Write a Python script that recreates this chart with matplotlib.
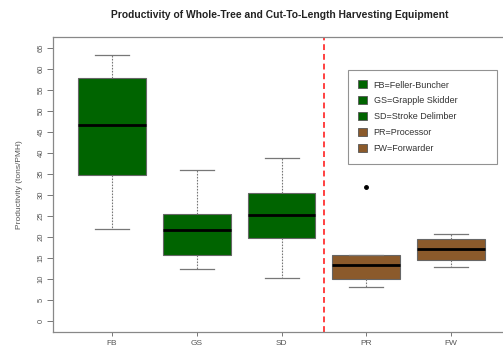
import matplotlib
matplotlib.use("Agg")
import matplotlib.pyplot as plt
from matplotlib.patches import Patch

# Equipment codes and summary statistics (tons/PMH)
labels = ["FB", "GS", "SD", "PR", "FW"]
whisker_low = [21.8, 12.4, 10.2, 8.1, 12.9]
q1 = [34.8, 15.6, 19.7, 9.9, 14.6]
median = [46.7, 21.7, 25.2, 13.2, 17.2]
q3 = [58.0, 25.5, 30.5, 15.6, 19.4]
whisker_high = [63.3, 36.0, 38.8, 15.8, 20.7]
outliers = [[], [], [], [32.0], []]
legend_labels = ["FB=Feller-Buncher", "GS=Grapple Skidder", "SD=Stroke Delimber",
                 "PR=Processor", "FW=Forwarder"]

green = "#006400"
brown = "#8B5A2B"
colors = [green, green, green, brown, brown]

plt.rcParams["font.family"] = ["Liberation Sans", "DejaVu Sans"]

fig = plt.figure(figsize=(5.03, 3.52), dpi=100)
ax = fig.add_axes([0.1048, 0.0577, 0.91, 0.8364])

stats = []
for i, lab in enumerate(labels):
    stats.append(dict(label=lab, whislo=whisker_low[i], q1=q1[i], med=median[i],
                      q3=q3[i], whishi=whisker_high[i], fliers=outliers[i]))

bp = ax.bxp(stats, positions=range(1, 6), widths=0.8, patch_artist=True,
            showfliers=True,
            boxprops=dict(edgecolor="#666666", linewidth=0.8),
            medianprops=dict(color="black", linewidth=2.0),
            whiskerprops=dict(color="#777777", linestyle=(0, (1.5, 1.2)), linewidth=0.8),
            capprops=dict(color="#777777", linewidth=0.9),
            flierprops=dict(marker="o", markersize=2.5, markerfacecolor="black",
                            markeredgecolor="black"))
for patch, c in zip(bp["boxes"], colors):
    patch.set_facecolor(c)
for cap in bp["caps"]:
    x0, x1 = cap.get_xdata()
    xc = (x0 + x1) / 2
    cap.set_xdata([xc - 0.2, xc + 0.2])

ax.axvline(3.5, color="#FF4040", linestyle=(0, (3, 2)), linewidth=1.4)

ax.set_xlim(0.3, 5.7)
ax.set_ylim(-2.6, 67.6)
ax.set_yticks(range(0, 66, 5))
ax.set_xticks(range(1, 6))
ax.set_xticklabels(labels)
ax.tick_params(axis="y", labelrotation=90, labelsize=5.5, length=4, width=0.7,
               color="#777777", labelcolor="#555555", pad=2)
ax.tick_params(axis="x", labelsize=6, length=3, width=0.7, color="#777777",
               labelcolor="#555555", pad=3)
for lab in ax.get_yticklabels():
    lab.set_verticalalignment("center")
for s in ax.spines.values():
    s.set_color("#888888")
    s.set_linewidth(0.9)

ax.set_ylabel("Productivity (tons/PMH)", fontsize=6, color="#555555", labelpad=10.5)
fig.text(0.557, 0.958, "Productivity of Whole-Tree and Cut-To-Length Harvesting Equipment",
         ha="center", va="center", fontsize=7.4, fontweight="bold", color="#222222")

handles = [Patch(facecolor=c, edgecolor="#555555", linewidth=0.6) for c in colors]
leg_x0, leg_x1 = 348 / 503, 497 / 503
leg_top = 1 - 70 / 352
leg = ax.legend(handles, legend_labels, loc="upper left", mode="expand",
                bbox_to_anchor=(leg_x0, leg_top - 0.3, leg_x1 - leg_x0, 0.3),
                bbox_transform=fig.transFigure,
                fontsize=6.5, frameon=True, fancybox=False, handlelength=1.0,
                handleheight=1.0, handletextpad=0.7, labelspacing=0.75,
                borderpad=1.15, borderaxespad=0, labelcolor="#333333")
leg.get_frame().set_edgecolor("#777777")
leg.get_frame().set_linewidth(0.8)

fig.savefig("out.png", dpi=100)
